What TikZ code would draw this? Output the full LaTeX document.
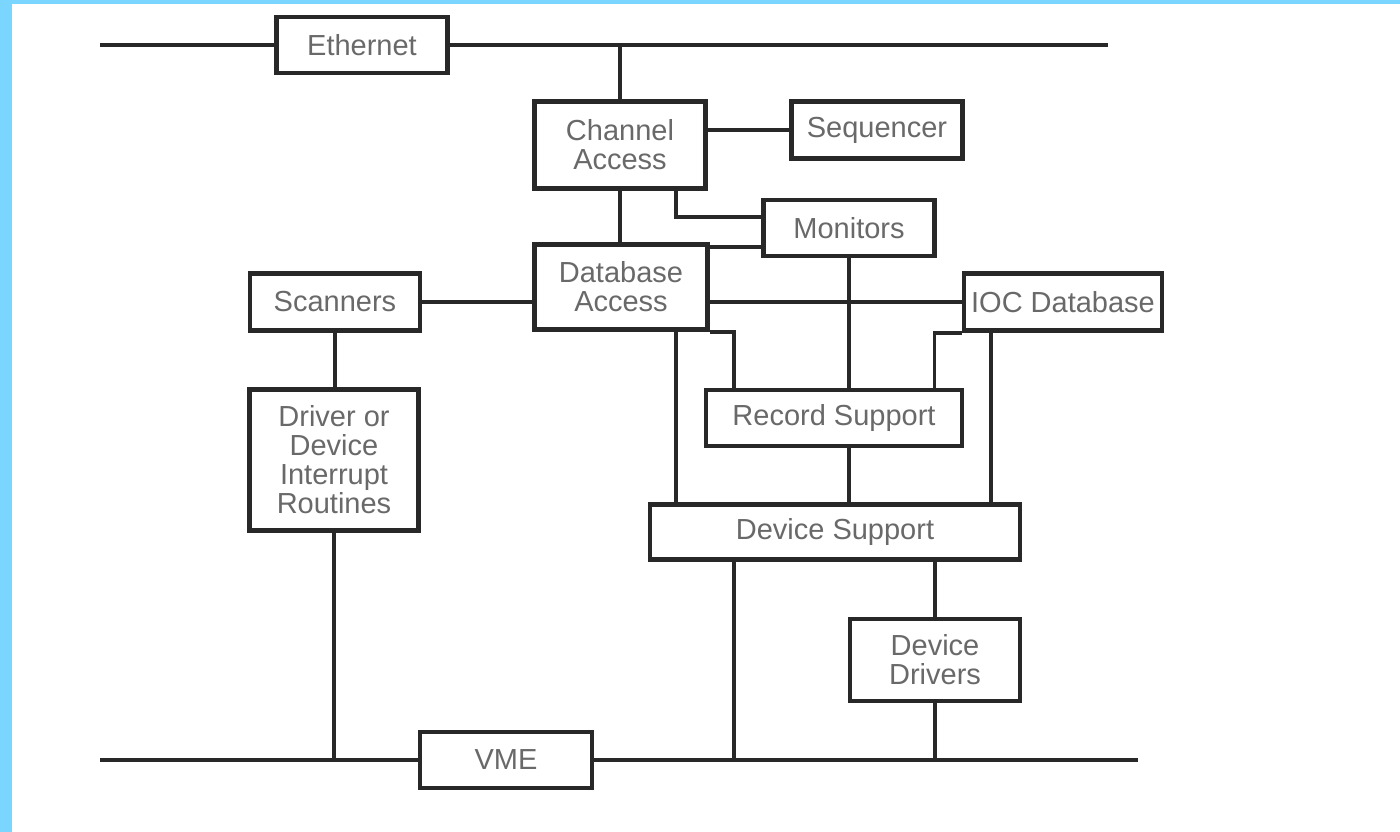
\documentclass[tikz,border=0pt]{standalone}
\usepackage{fontspec}
\setmainfont{Liberation Sans}
\definecolor{edgeblue}{RGB}{122,214,255}
\definecolor{inkline}{RGB}{40,40,40}
\definecolor{inktext}{RGB}{105,105,105}
\tikzset{
  blk/.style={draw=inkline, line width=4.5pt, fill=white, inner sep=0pt, align=center,
    text=inktext, font=\fontsize{29}{29}\selectfont},
  wire/.style={draw=inkline, line width=3.5pt},
}
\begin{document}
\begin{tikzpicture}[x=1pt,y=-1pt]
\fill[white] (0,0) rectangle (1400,832);
\useasboundingbox (0,0) rectangle (1400,832);
%Frame strips
\fill[edgeblue] (0,0) rectangle (12,832);
\fill[edgeblue] (0,0) rectangle (1400,4);

%Bus ends
\coordinate (ethL) at (100,45);
\coordinate (ethR) at (1108,45);
\coordinate (vmeL) at (100,760);
\coordinate (vmeR) at (1138,760);

%Blocks
\node [blk, minimum width=171, minimum height=56] (eth) at (362,45) {Ethernet};
\node [blk, minimum width=171, minimum height=87] (ca) at (620,145) {Channel\\Access};
\node [blk, minimum width=171, minimum height=57] (seq) at (877,130) {Sequencer};
\node [blk, minimum width=171, minimum height=56] (mon) at (849,228) {Monitors};
\node [blk, minimum width=173, minimum height=85] (da) at (621,287) {Database\\Access};
\node [blk, minimum width=170, minimum height=57] (scan) at (335,302) {Scanners};
\node [blk, minimum width=198, minimum height=57] (ioc) at (1063,302) {IOC Database};
\node [blk, minimum width=256, minimum height=56] (rs) at (834,418) {Record Support};
\node [blk, minimum width=169, minimum height=141] (drv) at (334,460) {Driver or\\Device\\Interrupt\\Routines};
\node [blk, minimum width=370, minimum height=55] (ds) at (835,532) {Device Support};
\node [blk, minimum width=170, minimum height=82] (dd) at (935,660) {Device\\Drivers};
\node [blk, minimum width=172, minimum height=56] (vme) at (506,760) {VME};

%Helper points
\coordinate (monhi) at ([yshift=11pt]mon.west);
\coordinate (monlo) at ([yshift=-19pt]mon.west);
\coordinate (cadrop) at ([xshift=56pt]ca.south);
\coordinate (dadrop) at ([xshift=55pt]da.south);
\coordinate (rsin1) at ([xshift=30pt]rs.north west);
\coordinate (rsin2) at ([xshift=-30pt]rs.north east);
\coordinate (iocdrop) at ([xshift=29pt]ioc.south west);
\coordinate (dsdrop) at ([xshift=-101pt]ds.south);

%Ethernet bus
\draw [wire] (ethL) -- (ethL -| eth.west);
\draw [wire] (eth.east) -- (ethR);
\draw [wire] (ca.north |- ethR) -- (ca.north);
%Channel Access links
\draw [wire] (seq.west -| ca.east) -- (seq.west);
\draw [wire] (cadrop) |- (monhi);
\draw [wire] (ca.south) -- (ca.south |- da.north);
%Database Access links
\draw [wire] (monlo -| da.east) -- (monlo);
\draw [wire] (scan.east) -- (scan.east -| da.west);
\draw [wire] (ioc.west -| da.east) -- (ioc.west);
\draw [wire] (da.south east) -| (rsin1);
\draw [wire] (dadrop) -- (dadrop |- ds.north);
%Monitors and IOC Database links
\draw [wire] (mon.south) -- (mon.south |- rs.north);
\draw [wire] (ioc.south west) -| (rsin2);
\draw [wire] (iocdrop) -- (iocdrop |- ds.north);
%Record Support to Device Support
\draw [wire] (mon.south |- rs.south) -- (mon.south |- ds.north);
%Device Support links
\draw [wire] (dsdrop) -- (dsdrop |- vmeR);
\draw [wire] (dd.north |- ds.south) -- (dd.north);
\draw [wire] (dd.south) -- (dd.south |- vmeR);
%Scanners column
\draw [wire] (scan.south) -- (scan.south |- drv.north);
\draw [wire] (drv.south) -- (drv.south |- vmeL);
%VME bus
\draw [wire] (vmeL) -- (vme.west);
\draw [wire] (vme.east) -- (vmeR);

\end{tikzpicture}
\end{document}
